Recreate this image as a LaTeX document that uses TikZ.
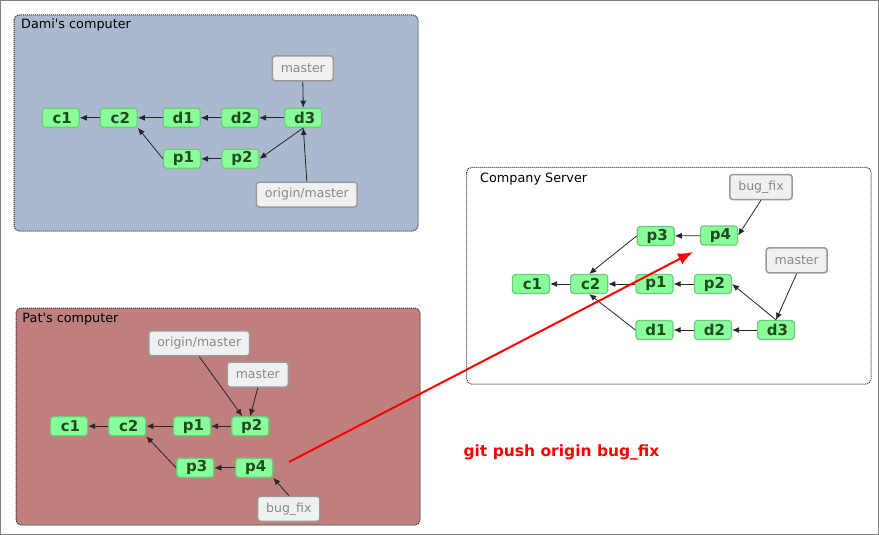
\documentclass[tikz,border=0pt]{standalone}
\usepackage{fontspec}
\setmainfont{DejaVu Sans}
\usetikzlibrary{arrows.meta}

\definecolor{damiblue}{HTML}{AAB9CF}
\definecolor{patred}{HTML}{C07F7F}
\definecolor{commitfill}{HTML}{88FF99}
\definecolor{commitline}{HTML}{6CCB7D}
\definecolor{committext}{HTML}{1F4A1F}
\definecolor{reffill}{HTML}{F0F0F0}
\definecolor{refline}{HTML}{999999}
\definecolor{reftext}{HTML}{888888}

\tikzset{
  commit/.style={draw=commitline, fill=commitfill, line width=1.2pt, rounded corners=3pt,
    minimum width=37pt, minimum height=19pt, inner sep=0pt, text=committext,
    font=\fontsize{15}{15}\selectfont\bfseries, execute at begin node={\hspace*{3pt}}},
  ref/.style={draw=refline, fill=reffill, line width=1.5pt, rounded corners=3pt,
    minimum height=25pt, inner xsep=8.5pt, inner ysep=0pt, text=reftext,
    font=\fontsize{12.5}{12.5}\selectfont},
  repo/.style={draw=black!85, dash pattern=on 1pt off 1pt, rounded corners=5pt, line width=1pt},
  repotitle/.style={anchor=west, inner sep=0pt, font=\fontsize{12.8}{12.8}\selectfont},
  parent/.style={-{Latex[length=7pt,width=6pt]}, line width=0.8pt, black!85},
  push/.style={-{Latex[length=15pt,width=12pt]}, line width=2pt, red},
}

\begin{document}
\begin{tikzpicture}[x=1pt,y=-1pt]
	\useasboundingbox (0,0) rectangle (879,535);
	\draw[black!50] (0.5,0.5) rectangle (878.5,534.5);
	
	% Dami's computer
	\draw[repo, fill=damiblue] (14,15) rectangle (418,231);
	\node[repotitle] (damititle) at (21,24.5) {Dami\textquotesingle s computer};
	\node[commit] (dc1) at (60.7,117.8) {c1};
	\node[commit] (dc2) at (118.8,117.8) {c2};
	\node[commit] (dd1) at (181.7,117.8) {d1};
	\node[commit] (dd2) at (240,117.8) {d2};
	\node[commit] (dd3) at (303.3,117.8) {d3};
	\node[commit] (dp1) at (182,158.8) {p1};
	\node[commit] (dp2) at (240.5,158.8) {p2};
	\node[ref] (dmaster) at (302.8,68.3) {master};
	\node[ref] (dorigin) at (306.8,194.5) {origin/master};
	\draw[parent] (dc2) -- (dc1);
	\draw[parent] (dd1) -- (dc2);
	\draw[parent] (dd2) -- (dd1);
	\draw[parent] (dd3) -- (dd2);
	\draw[parent] (dp1.west) -- (dc2.south east);
	\draw[parent] (dp2) -- (dp1);
	\draw[parent] (dd3.south) -- (dp2.east);
	\draw[parent] (dmaster.south) -- (dd3.north);
	\draw[parent] (dorigin.north) -- (dd3.south);
	
	% Pat's computer
	\draw[repo, fill=patred] (16,308) rectangle (420,525);
	\node[repotitle] (pattitle) at (22.3,319.3) {Pat\textquotesingle s computer};
	\node[commit] (pc1) at (69,426.2) {c1};
	\node[commit] (pc2) at (127.2,426.2) {c2};
	\node[commit] (pp1) at (192,426.2) {p1};
	\node[commit] (pp2) at (250.2,426.2) {p2};
	\node[commit] (pp3) at (195.3,467.8) {p3};
	\node[commit] (pp4) at (254.2,467.8) {p4};
	\node[ref] (porigin) at (199.2,343.3) {origin/master};
	\node[ref] (pmaster) at (257.8,374.5) {master};
	\node[ref] (pbugfix) at (288.8,508.8) {bug\_fix};
	\draw[parent] (pc2) -- (pc1);
	\draw[parent] (pp1) -- (pc2);
	\draw[parent] (pp2) -- (pp1);
	\draw[parent] (pp3.west) -- (pc2.south east);
	\draw[parent] (pp4) -- (pp3);
	\draw[parent] (porigin.south) -- ([xshift=-8pt]pp2.north);
	\draw[parent] (pmaster.south) -- (pp2.north);
	\draw[parent] (pbugfix.north) -- (pp4.south east);
	
	% Company Server
	\draw[repo, fill=white] (466.7,167.3) rectangle (871,384);
	\node[repotitle] (servertitle) at (480,179.3) {Company Server};
	\node[commit] (sc1) at (531,284) {c1};
	\node[commit] (sc2) at (589.2,284) {c2};
	\node[commit] (sp1) at (654.5,284) {p1};
	\node[commit] (sp2) at (713,284) {p2};
	\node[commit] (sp3) at (655.7,236) {p3};
	\node[commit] (sp4) at (719,235.5) {p4};
	\node[commit] (sd1) at (654.5,330) {d1};
	\node[commit] (sd2) at (713,330) {d2};
	\node[commit] (sd3) at (776,330) {d3};
	\node[ref] (sbugfix) at (761,187) {bug\_fix};
	\node[ref] (smaster) at (796.7,260.3) {master};
	\draw[parent] (sc2) -- (sc1);
	\draw[parent] (sp1) -- (sc2);
	\draw[parent] (sp2) -- (sp1);
	\draw[parent] (sp3.west) -- (sc2.north);
	\draw[parent] (sp4) -- (sp3);
	\draw[parent] (sd1.west) -- (sc2.south);
	\draw[parent] (sd2) -- (sd1);
	\draw[parent] (sd3) -- (sd2);
	\draw[parent] (sd3.north) -- (sp2.east);
	\draw[parent] (sbugfix.south) -- (sp4.east);
	\draw[parent] (smaster.south) -- (sd3.north);
	
	% push
	\coordinate (pushfrom) at (289,462);
	\coordinate (pushto) at (693,252);
	\draw[push] (pushfrom) -- (pushto);
	\node[text=red, font=\fontsize{15.5}{15.5}\selectfont\bfseries] (pushcmd) at (561.5,452) {git push origin bug\_fix};
\end{tikzpicture}
\end{document}
